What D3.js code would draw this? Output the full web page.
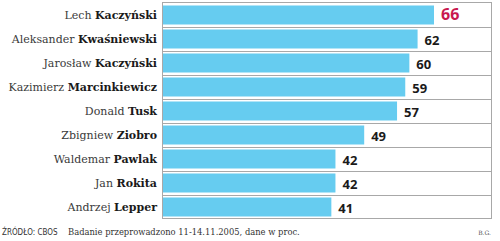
<html>
<head>
<meta charset="utf-8">
<script src="https://d3js.org/d3.v7.min.js"></script>
<style>
  body, html { margin: 0; padding: 0; background: #fff; }
</style>
</head>
<body>
<div id="chart"></div>
<script>
var firstNames = ["Lech", "Aleksander", "Jarosław", "Kazimierz", "Donald", "Zbigniew", "Waldemar", "Jan", "Andrzej"];
var lastNames = ["Kaczyński", "Kwaśniewski", "Kaczyński", "Marcinkiewicz", "Tusk", "Ziobro", "Pawlak", "Rokita", "Lepper"];
var values = [66, 62, 60, 59, 57, 49, 42, 42, 41];
var sourceLabel = "ŹRÓDŁO: CBOS";
var noteLabel = "Badanie przeprowadzono 11-14.11.2005, dane w proc.";
var authorLabel = "B.G.";

var w = 500, h = 241;
var box = { left: 162.5, right: 491.5, top: 2.5, bottom: 218.5 };

var svg = d3.select("#chart").append("svg")
    .attr("width", w)
    .attr("height", h);

var x = d3.scaleLinear()
    .domain([0, 66])
    .range([163, 434]);

var y = d3.scaleBand()
    .domain(d3.range(values.length))
    .range([box.top, box.bottom]);

// row separators
svg.append("g")
    .selectAll("line")
    .data(d3.range(1, values.length))
    .enter()
    .append("line")
    .attr("x1", box.left)
    .attr("x2", box.right)
    .attr("y1", function (i) { return Math.round(y(i)) + 0.5; })
    .attr("y2", function (i) { return Math.round(y(i)) + 0.5; })
    .style("stroke", "#a8a8a8")
    .style("stroke-width", 1);

// bars
svg.append("g")
    .selectAll("rect")
    .data(values)
    .enter()
    .append("rect")
    .attr("x", x(0))
    .attr("y", function (d, i) { return y(i) + 3; })
    .attr("width", function (d) { return x(d) - x(0); })
    .attr("height", y.bandwidth() - 5)
    .style("fill", "#66ccf0");

// frame
svg.append("rect")
    .attr("x", box.left)
    .attr("y", box.top)
    .attr("width", box.right - box.left)
    .attr("height", box.bottom - box.top)
    .style("fill", "none")
    .style("stroke", "#a8a8a8")
    .style("stroke-width", 1);

// names
var names = svg.append("g")
    .selectAll("text")
    .data(values)
    .enter()
    .append("text")
    .attr("x", 157)
    .attr("y", function (d, i) { return y(i) + y.bandwidth() / 2 + 4.5; })
    .attr("text-anchor", "end")
    .style("font-family", "'DejaVu Serif', serif")
    .style("font-size", "11px")
    .style("fill", "#222");

names.append("tspan")
    .style("font-weight", "normal")
    .style("fill", "#3a3a3a")
    .text(function (d, i) { return firstNames[i] + " "; });

names.append("tspan")
    .style("font-weight", "bold")
    .style("fill", "#1a1a1a")
    .text(function (d, i) { return lastNames[i]; });

// values
svg.append("g")
    .selectAll("text")
    .data(values)
    .enter()
    .append("text")
    .attr("x", function (d) { return x(d) + 7; })
    .attr("y", function (d, i) { return y(i) + y.bandwidth() / 2 + (i == 0 ? 5 : 6); })
    .style("font-family", "'Open Sans', sans-serif")
    .style("font-weight", "bold")
    .style("font-size", function (d, i) { return i == 0 ? "16px" : "13px"; })
    .style("fill", function (d, i) { return i == 0 ? "#c8194f" : "#1a1a1a"; })
    .text(function (d) { return d; });

// footer
svg.append("text")
    .attr("x", 2)
    .attr("y", 235)
    .style("font-family", "'DejaVu Sans Condensed', sans-serif")
    .style("font-size", "8px")
    .style("fill", "#333")
    .text(sourceLabel);

svg.append("text")
    .attr("x", 68)
    .attr("y", 235)
    .style("font-family", "'DejaVu Serif Condensed', serif")
    .style("font-size", "9.3px")
    .style("fill", "#333")
    .text(noteLabel);

svg.append("text")
    .attr("x", 491)
    .attr("y", 235)
    .attr("text-anchor", "end")
    .style("font-family", "'DejaVu Serif', serif")
    .style("font-size", "6px")
    .style("fill", "#555")
    .text(authorLabel);
</script>
</body>
</html>
